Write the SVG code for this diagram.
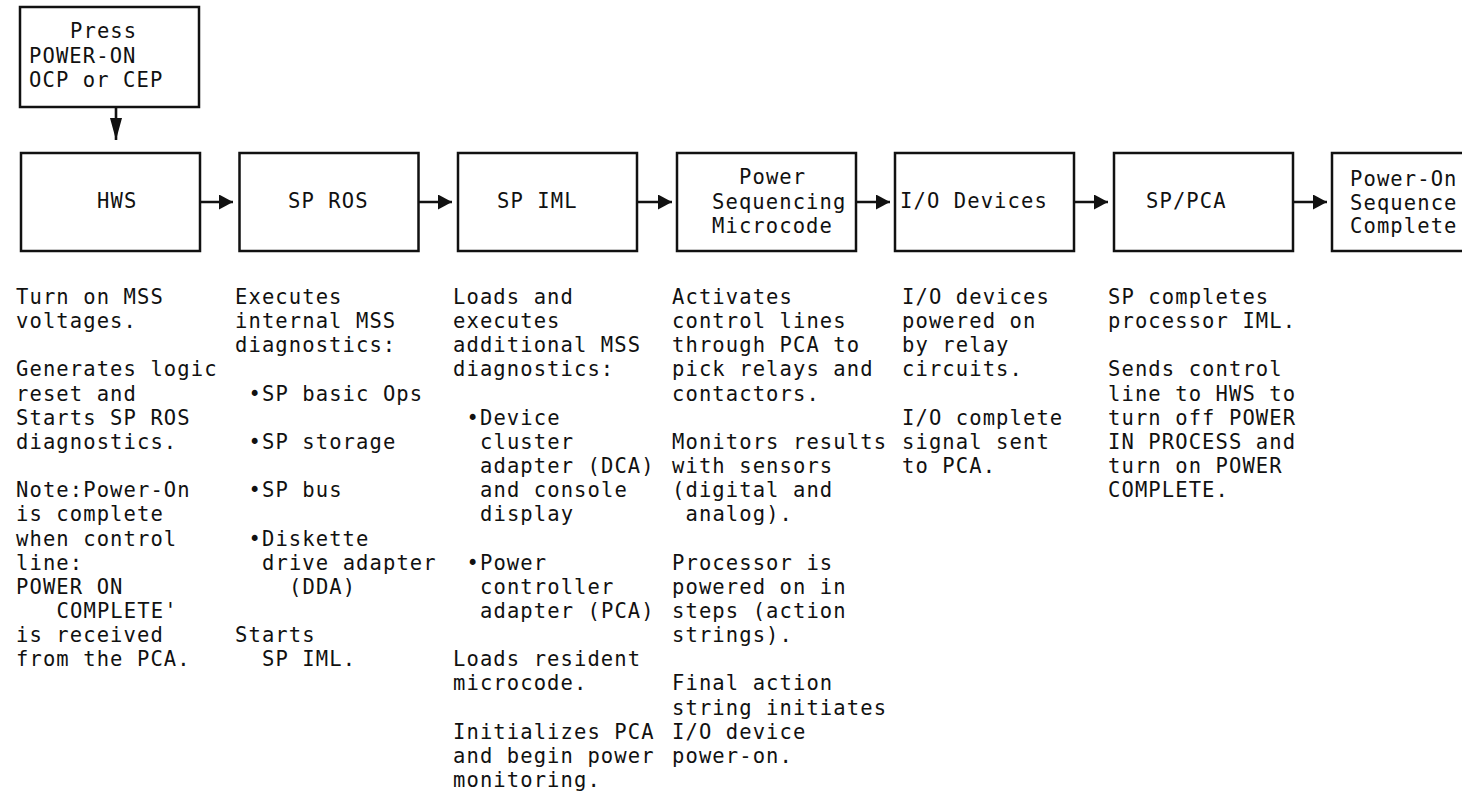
<svg xmlns="http://www.w3.org/2000/svg" width="1462" height="792" viewBox="0 0 1462 792">
<style>
  .box { fill: #fff; stroke: #111; stroke-width: 2.5; }
  .t { font-family: "DejaVu Sans Mono", "Liberation Mono", monospace; font-size: 20.5px; letter-spacing: 1.1px; fill: #111; }
  .conn { stroke: #111; stroke-width: 2.6; fill: none; }
</style>
<defs>
  <marker id="ah" markerUnits="userSpaceOnUse" markerWidth="14" markerHeight="15" refX="14" refY="7.5" orient="auto">
    <path d="M0,0 L14,7.5 L0,15 z" fill="#111"/>
  </marker>
  <marker id="ahv" markerUnits="userSpaceOnUse" markerWidth="22" markerHeight="12" refX="22" refY="6" orient="auto">
    <path d="M0,0 L22,6 L0,12 z" fill="#111"/>
  </marker>
</defs>
<rect width="1462" height="792" fill="#fff"/>

<g id="connectors">
  <line class="conn" x1="116" y1="107" x2="116" y2="140" marker-end="url(#ahv)"/>
  <line class="conn" x1="200" y1="202" x2="233" y2="202" marker-end="url(#ah)"/>
  <line class="conn" x1="418.5" y1="202" x2="452" y2="202" marker-end="url(#ah)"/>
  <line class="conn" x1="637" y1="202" x2="672" y2="202" marker-end="url(#ah)"/>
  <line class="conn" x1="856" y1="202" x2="890" y2="202" marker-end="url(#ah)"/>
  <line class="conn" x1="1074" y1="202" x2="1108" y2="202" marker-end="url(#ah)"/>
  <line class="conn" x1="1293" y1="202" x2="1327" y2="202" marker-end="url(#ah)"/>
</g>

<g id="node-press">
  <rect class="box" x="20" y="7" width="179" height="100"/>
  <text class="t"><tspan x="70" y="38">Press</tspan><tspan x="29" y="62.5">POWER-ON</tspan><tspan x="29" y="87">OCP or CEP</tspan></text>
</g>
<g id="node-hws">
  <rect class="box" x="21" y="153" width="179" height="98"/>
  <text class="t" x="97" y="208">HWS</text>
</g>
<g id="node-sp-ros">
  <rect class="box" x="239.5" y="153" width="179" height="98"/>
  <text class="t" x="288" y="208">SP ROS</text>
</g>
<g id="node-sp-iml">
  <rect class="box" x="458" y="153" width="179" height="98"/>
  <text class="t" x="497" y="208">SP IML</text>
</g>
<g id="node-power-seq">
  <rect class="box" x="677" y="153" width="179" height="98"/>
  <text class="t"><tspan x="739" y="184">Power</tspan><tspan x="712" y="208.5">Sequencing</tspan><tspan x="712" y="233">Microcode</tspan></text>
</g>
<g id="node-io">
  <rect class="box" x="895" y="153" width="179" height="98"/>
  <text class="t" x="900" y="208">I/O Devices</text>
</g>
<g id="node-sp-pca">
  <rect class="box" x="1114" y="153" width="179" height="98"/>
  <text class="t" x="1146" y="208">SP/PCA</text>
</g>
<g id="node-complete">
  <rect class="box" x="1332" y="153" width="179" height="98"/>
  <text class="t"><tspan x="1350" y="186">Power-On</tspan><tspan x="1350" y="210">Sequence</tspan><tspan x="1350" y="233">Complete</tspan></text>
</g>

<g id="notes-hws">
  <text class="t">
    <tspan x="16" y="304">Turn on MSS</tspan>
    <tspan x="16" y="328.15">voltages.</tspan>
    <tspan x="16" y="376.45">Generates logic</tspan>
    <tspan x="16" y="400.6">reset and</tspan>
    <tspan x="16" y="424.75">Starts SP ROS</tspan>
    <tspan x="16" y="448.9">diagnostics.</tspan>
    <tspan x="16" y="497.2">Note:Power-On</tspan>
    <tspan x="16" y="521.35">is complete</tspan>
    <tspan x="16" y="545.5">when control</tspan>
    <tspan x="16" y="569.65">line:</tspan>
    <tspan x="16" y="593.8">POWER ON</tspan>
    <tspan x="56.6" y="617.95">COMPLETE'</tspan>
    <tspan x="16" y="642.1">is received</tspan>
    <tspan x="16" y="666.25">from the PCA.</tspan>
  </text>
</g>
<g id="notes-sp-ros">
  <text class="t">
    <tspan x="235" y="304">Executes</tspan>
    <tspan x="235" y="328.15">internal MSS</tspan>
    <tspan x="235" y="352.3">diagnostics:</tspan>
    <tspan x="248.5" y="400.6">•SP basic Ops</tspan>
    <tspan x="248.5" y="448.9">•SP storage</tspan>
    <tspan x="248.5" y="497.2">•SP bus</tspan>
    <tspan x="248.5" y="545.5">•Diskette</tspan>
    <tspan x="262" y="569.65">drive adapter</tspan>
    <tspan x="289" y="593.8">(DDA)</tspan>
    <tspan x="235" y="642.1">Starts</tspan>
    <tspan x="262" y="666.25">SP IML.</tspan>
  </text>
</g>
<g id="notes-sp-iml">
  <text class="t">
    <tspan x="453" y="304">Loads and</tspan>
    <tspan x="453" y="328.15">executes</tspan>
    <tspan x="453" y="352.3">additional MSS</tspan>
    <tspan x="453" y="376.45">diagnostics:</tspan>
    <tspan x="466.5" y="424.75">•Device</tspan>
    <tspan x="480" y="448.9">cluster</tspan>
    <tspan x="480" y="473.05">adapter (DCA)</tspan>
    <tspan x="480" y="497.2">and console</tspan>
    <tspan x="480" y="521.35">display</tspan>
    <tspan x="466.5" y="569.65">•Power</tspan>
    <tspan x="480" y="593.8">controller</tspan>
    <tspan x="480" y="617.95">adapter (PCA)</tspan>
    <tspan x="453" y="666.25">Loads resident</tspan>
    <tspan x="453" y="690.4">microcode.</tspan>
    <tspan x="453" y="738.7">Initializes PCA</tspan>
    <tspan x="453" y="762.85">and begin power</tspan>
    <tspan x="453" y="787">monitoring.</tspan>
  </text>
</g>
<g id="notes-power-seq">
  <text class="t">
    <tspan x="672" y="304">Activates</tspan>
    <tspan x="672" y="328.15">control lines</tspan>
    <tspan x="672" y="352.3">through PCA to</tspan>
    <tspan x="672" y="376.45">pick relays and</tspan>
    <tspan x="672" y="400.6">contactors.</tspan>
    <tspan x="672" y="448.9">Monitors results</tspan>
    <tspan x="672" y="473.05">with sensors</tspan>
    <tspan x="672" y="497.2">(digital and</tspan>
    <tspan x="685.5" y="521.35">analog).</tspan>
    <tspan x="672" y="569.65">Processor is</tspan>
    <tspan x="672" y="593.8">powered on in</tspan>
    <tspan x="672" y="617.95">steps (action</tspan>
    <tspan x="672" y="642.1">strings).</tspan>
    <tspan x="672" y="690.4">Final action</tspan>
    <tspan x="672" y="714.55">string initiates</tspan>
    <tspan x="672" y="738.7">I/O device</tspan>
    <tspan x="672" y="762.85">power-on.</tspan>
  </text>
</g>
<g id="notes-io">
  <text class="t">
    <tspan x="902" y="304">I/O devices</tspan>
    <tspan x="902" y="328.15">powered on</tspan>
    <tspan x="902" y="352.3">by relay</tspan>
    <tspan x="902" y="376.45">circuits.</tspan>
    <tspan x="902" y="424.75">I/O complete</tspan>
    <tspan x="902" y="448.9">signal sent</tspan>
    <tspan x="902" y="473.05">to PCA.</tspan>
  </text>
</g>
<g id="notes-sp-pca">
  <text class="t">
    <tspan x="1108" y="304">SP completes</tspan>
    <tspan x="1108" y="328.15">processor IML.</tspan>
    <tspan x="1108" y="376.45">Sends control</tspan>
    <tspan x="1108" y="400.6">line to HWS to</tspan>
    <tspan x="1108" y="424.75">turn off POWER</tspan>
    <tspan x="1108" y="448.9">IN PROCESS and</tspan>
    <tspan x="1108" y="473.05">turn on POWER</tspan>
    <tspan x="1108" y="497.2">COMPLETE.</tspan>
  </text>
</g>
</svg>
